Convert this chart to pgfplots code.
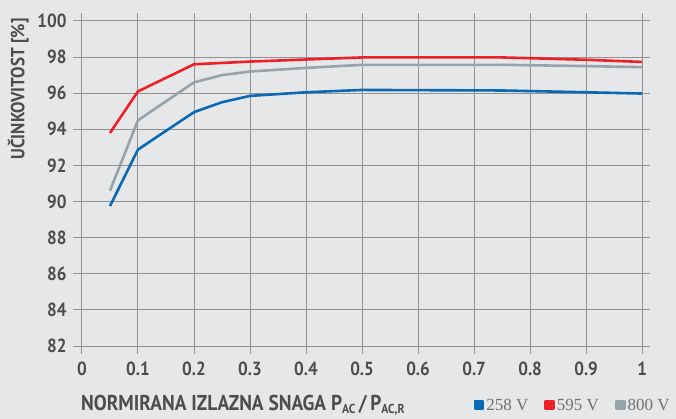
\documentclass[border=0pt]{standalone}
\usepackage{fontspec}
\setmainfont{PT Sans}[FakeStretch=0.9]
\newfontfamily\legfont{Liberation Serif}
\usepackage{pgfplots}
\pgfplotsset{compat=1.18}
\usetikzlibrary{backgrounds}
\definecolor{bg}{HTML}{E6E7E9}
\definecolor{txt}{HTML}{4D4D4F}
\definecolor{cblue}{HTML}{0A68B4}
\definecolor{cred}{HTML}{EE2027}
\definecolor{cgray}{HTML}{97A3AB}
\definecolor{gridc}{HTML}{5A5A5C}
\begin{document}
\begin{tikzpicture}[inner frame sep=0pt, background rectangle/.style={fill=bg, draw=none}, show background rectangle]
\path (0,0) rectangle (676pt,418pt);
\begin{axis}[
  at={(73pt,64pt)}, anchor=south west,
  scale only axis, width=577pt, height=341pt,
  xmin=-0.016, xmax=1.014, ymin=81.56, ymax=100.44,
  xtick={0,0.1,...,1.0}, ytick={82,84,...,100},
  xticklabels={0,0.1,0.2,0.3,0.4,0.5,0.6,0.7,0.8,0.9,1},
  /pgf/number format/assume math mode=true,
  axis line style={draw=none},
  major tick length=0pt,
  xmajorgrids, ymajorgrids,
  major grid style={draw=gridc!60!bg, line width=1pt, solid},
  tick label style={font=\fontsize{19}{22}\selectfont\bfseries, text=txt},
  yticklabel style={xshift=-3pt},
  xticklabel style={yshift=-4pt},
  ylabel={UČINKOVITOST [\%]},
  ylabel style={at={(axis description cs:-0.095,0.995)}, anchor=east, font=\fontsize{19}{23}\selectfont\bfseries, text=txt},
  xlabel={NORMIRANA IZLAZNA SNAGA P{\fontsize{13}{15}\selectfont\raisebox{-3pt}{AC}}\,/\,P{\fontsize{13}{15}\selectfont\raisebox{-3pt}{AC,R}}},
  xlabel style={at={(axis description cs:0.008,-0.15)}, anchor=west, font=\fontsize{21.5}{25}\selectfont\bfseries, text=txt},
  legend columns=3,
  legend style={at={(axis description cs:1.043,-0.15)}, anchor=east, draw=none, fill=none,
    font=\legfont\fontsize{17}{20}\selectfont, text=txt!80,
    /tikz/every even column/.append style={column sep=14pt}},
  every axis plot/.append style={line width=2.6pt, line join=round},
]
\addplot[cblue, legend image code/.code={\fill[cblue] (0pt,-4pt) rectangle (8pt,4pt);}] coordinates {(0.05,89.75) (0.1,92.88) (0.2,94.95) (0.25,95.5) (0.3,95.85) (0.4,96.05) (0.5,96.18) (0.75,96.15) (0.9,96.05) (1.0,95.98)};
\addplot[cred, legend image code/.code={\fill[cred] (0pt,-4pt) rectangle (8pt,4pt);}] coordinates {(0.05,93.8) (0.1,96.1) (0.2,97.6) (0.3,97.75) (0.5,97.98) (0.75,97.98) (0.9,97.85) (1.0,97.73)};
\addplot[cgray, legend image code/.code={\fill[cgray] (0pt,-4pt) rectangle (8pt,4pt);}] coordinates {(0.05,90.6) (0.1,94.5) (0.2,96.6) (0.25,97.0) (0.3,97.2) (0.4,97.4) (0.5,97.57) (0.75,97.57) (0.9,97.5) (1.0,97.44)};
\legend{258 V, 595 V, 800 V}
\end{axis}
\end{tikzpicture}
\end{document}
